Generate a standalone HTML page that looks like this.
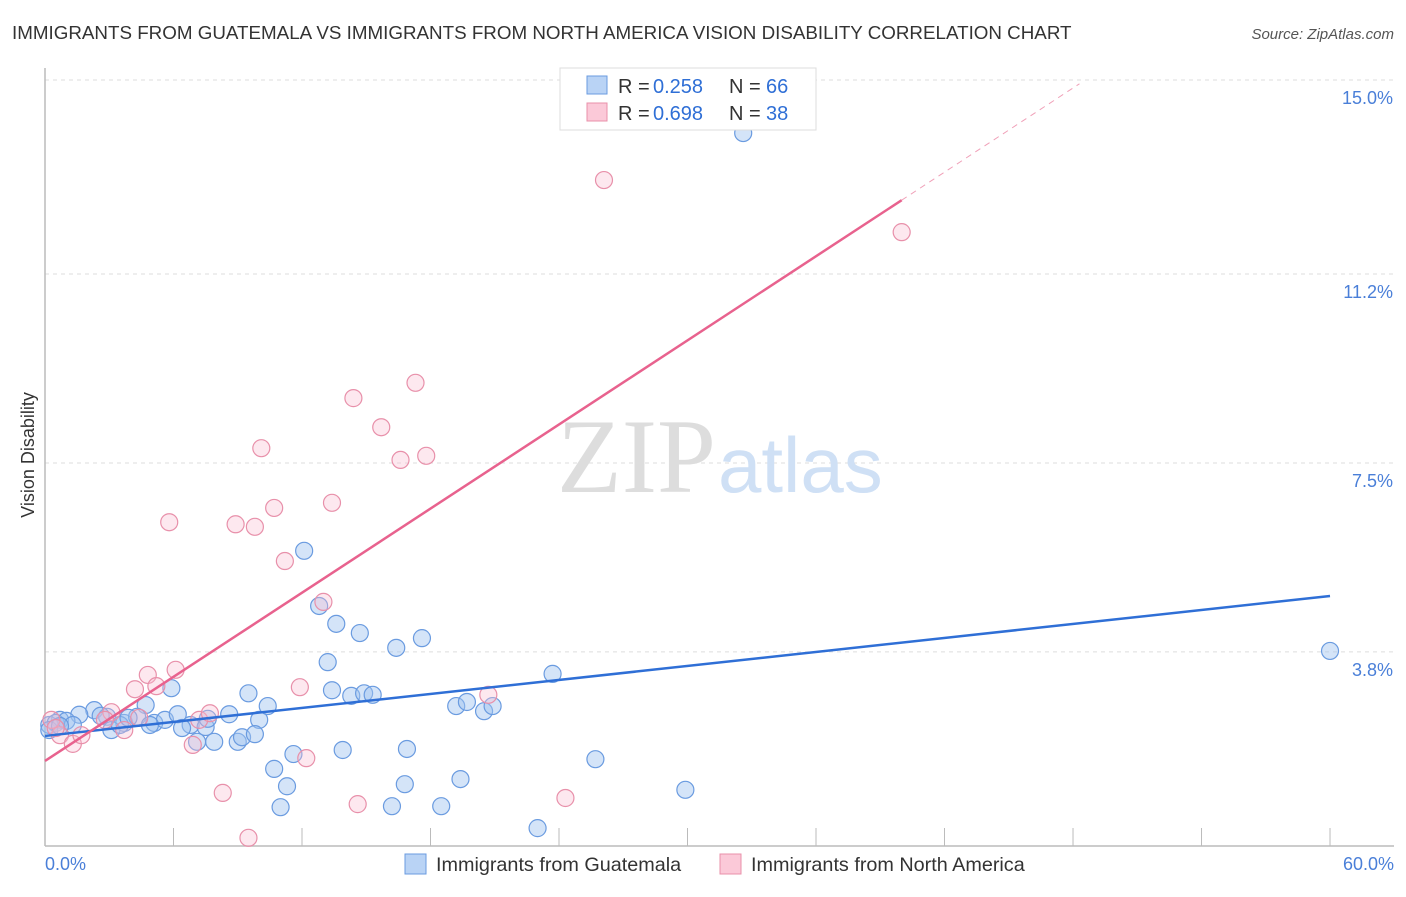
<!DOCTYPE html>
<html><head><meta charset="utf-8"><style>
body{margin:0;background:#fff;font-family:"Liberation Sans",sans-serif;}
</style></head><body>
<svg width="1406" height="892" xmlns="http://www.w3.org/2000/svg" font-family="Liberation Sans, sans-serif">
<text x="12" y="39" font-size="18.8" fill="#333">IMMIGRANTS FROM GUATEMALA VS IMMIGRANTS FROM NORTH AMERICA VISION DISABILITY CORRELATION CHART</text>
<text x="1394" y="39" font-size="15" fill="#555" font-style="italic" text-anchor="end">Source: ZipAtlas.com</text>
<g id="grid"></g>
<text x="716" y="492" font-size="106" fill="#ddd" text-anchor="end" font-family="Liberation Serif, serif">ZIP</text>
<text x="718" y="492" font-size="78" fill="#cfe0f5">atlas</text>
<g id="pts"></g>
<g id="lines"></g>
<text x="34" y="455" font-size="18" fill="#333" transform="rotate(-90 34 455)" text-anchor="middle">Vision Disability</text>
<g>
<rect x="560" y="68" width="256" height="62" fill="#fff" stroke="#ddd"/>
<rect x="587" y="76" width="20" height="18" fill="#b9d3f5" stroke="#6a9be0"/>
<rect x="587" y="103" width="20" height="18" fill="#fbc9d8" stroke="#e890aa"/>
<text x="618" y="93" font-size="20" fill="#333">R =</text>
<text x="653" y="93" font-size="20" fill="#2f6fd6">0.258</text>
<text x="729" y="93" font-size="20" fill="#333">N =</text>
<text x="766" y="93" font-size="20" fill="#2f6fd6">66</text>
<text x="618" y="120" font-size="20" fill="#333">R =</text>
<text x="653" y="120" font-size="20" fill="#2f6fd6">0.698</text>
<text x="729" y="120" font-size="20" fill="#333">N =</text>
<text x="766" y="120" font-size="20" fill="#2f6fd6">38</text>
</g>
<text x="45" y="870" font-size="18" fill="#4a7fd8">0.0%</text>
<text x="1394" y="870" font-size="18" fill="#4a7fd8" text-anchor="end">60.0%</text>
<g>
<rect x="405" y="854" width="21" height="20" fill="#b9d3f5" stroke="#6a9be0"/>
<text x="436" y="871" font-size="19.8" fill="#333">Immigrants from Guatemala</text>
<rect x="720" y="854" width="21" height="20" fill="#fbc9d8" stroke="#e890aa"/>
<text x="751" y="871" font-size="19.8" fill="#333">Immigrants from North America</text>
</g>
</svg>
<script>
const yTicks=[15.0,11.2,7.5,3.8];
const yTickLabels=["15.0%","11.2%","7.5%","3.8%"];
const xTicks=[0,6,12,18,24,30,36,42,48,54,60];
const guatX=[32.6,12.1,12.8,13.6,14.7,16.4,17.6,13.2,23.7,60.0,5.9,9.5,13.4,14.3,14.9,15.3,4.7,2.3,1.6,0.7,0.2,0.5,1.0,2.9,3.7,4.3,5.1,5.6,6.2,6.8,7.5,7.6,8.6,10.0,10.4,3.1,3.5,6.4,7.1,7.9,9.0,9.2,9.8,19.2,19.7,20.5,20.9,11.6,13.9,16.9,25.7,10.7,11.3,16.8,19.4,29.9,11.0,16.2,18.5,23.0,0.2,2.6,1.3,4.9,3.9,0.7];
const guatY=[13.96,5.78,4.70,4.35,4.17,3.88,4.07,3.60,3.37,3.82,3.09,2.99,3.05,2.94,2.99,2.96,2.76,2.66,2.57,2.47,2.37,2.41,2.45,2.53,2.41,2.53,2.41,2.47,2.58,2.37,2.33,2.49,2.58,2.47,2.74,2.27,2.37,2.31,2.04,2.04,2.04,2.13,2.19,2.74,2.82,2.64,2.74,1.80,1.88,1.90,1.70,1.51,1.17,1.21,1.31,1.10,0.76,0.78,0.78,0.35,2.27,2.55,2.37,2.37,2.51,2.35];
const naX=[26.1,40.0,17.3,14.4,15.7,10.1,16.6,17.8,13.4,5.8,8.9,9.8,10.7,11.2,13.0,6.1,4.8,5.2,4.2,11.9,20.7,0.3,0.7,1.3,1.7,3.1,3.7,2.8,6.9,7.2,7.7,8.3,12.2,14.6,24.3,9.5,0.5,4.4];
const naY=[13.04,12.02,9.07,8.77,8.20,7.79,7.56,7.64,6.72,6.34,6.30,6.25,6.62,5.58,4.78,3.45,3.35,3.13,3.07,3.11,2.96,2.47,2.17,2.00,2.17,2.62,2.27,2.47,1.98,2.47,2.60,1.04,1.72,0.82,0.94,0.16,2.31,2.51];
const blueLine=[2.155,4.896];
const pinkLine=[1.666,0.2745];
const pinkSolidEnd=40.0, pinkDashEnd=48.3;
const ns="http://www.w3.org/2000/svg";
const X=v=>45+v*21.417, Y=v=>846-v*51.07;
function mk(t,a,p){const e=document.createElementNS(ns,t);for(const k in a)e.setAttribute(k,a[k]);p.appendChild(e);return e;}
const grid=document.getElementById('grid');
yTicks.forEach((t,i)=>{
 const l=mk('line',{x1:45,x2:1394,y1:Y(t),y2:Y(t),stroke:'#ddd','stroke-dasharray':'4,4'},grid);
 
 
 const tx=mk('text',{x:1393,y:Y(t)+24,'font-size':18,fill:'#4a7fd8','text-anchor':'end'},grid);
 tx.textContent=yTickLabels[i];
 
 
});
const ax=mk('line',{x1:45,x2:1394,y1:846,y2:846,stroke:'#bbb','stroke-width':1.5},grid);


const ay=mk('line',{x1:45,x2:45,y1:68,y2:846,stroke:'#bbb','stroke-width':1.5},grid);


xTicks.forEach(t=>{const l=mk('line',{x1:X(t),x2:X(t),y1:828,y2:846,stroke:'#bbb'},grid);
 
 });
const pts=document.getElementById('pts');
guatX.forEach((x,i)=>{const c=mk('circle',{cx:X(x),cy:Y(guatY[i]),r:8.5,fill:'rgba(160,196,240,0.45)',stroke:'#6a9be0','stroke-width':1.2},pts);
 
 });
naX.forEach((x,i)=>{const c=mk('circle',{cx:X(x),cy:Y(naY[i]),r:8.5,fill:'rgba(248,190,208,0.35)',stroke:'#e890aa','stroke-width':1.2},pts);
 
 });
const lines=document.getElementById('lines');
const bl=mk('line',{x1:X(0),y1:Y(blueLine[0]),x2:X(60),y2:Y(blueLine[1]),stroke:'#2f6fd6','stroke-width':2.5},lines);


const pl=mk('line',{x1:X(0),y1:Y(pinkLine[0]),x2:X(pinkSolidEnd),y2:Y(pinkLine[0]+pinkLine[1]*pinkSolidEnd),stroke:'#e8628e','stroke-width':2.5},lines);


const pd=mk('line',{x1:X(pinkSolidEnd),y1:Y(pinkLine[0]+pinkLine[1]*pinkSolidEnd),x2:X(pinkDashEnd),y2:Y(pinkLine[0]+pinkLine[1]*pinkDashEnd),stroke:'#f0a0b8','stroke-width':1,'stroke-dasharray':'6,5'},lines);


</script>
</body></html>
